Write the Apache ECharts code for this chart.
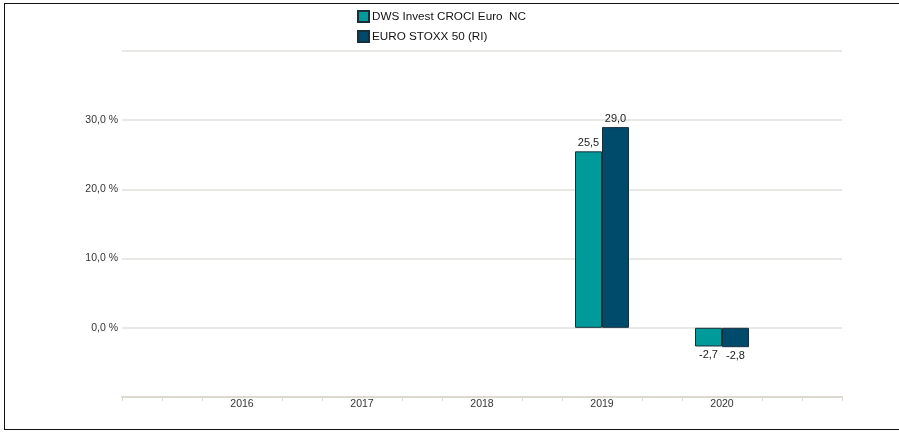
<!DOCTYPE html>
<html>
<head>
<meta charset="utf-8">
<script src="https://cdn.jsdelivr.net/npm/echarts@6/dist/echarts.min.js"></script>
<style>
html,body{margin:0;padding:0;background:#fff;}
#frame{position:absolute;left:4px;top:3px;width:900px;height:427px;border:1.5px solid #111;border-right:none;box-sizing:border-box;}
#chart{position:absolute;left:0;top:0;width:899px;height:433px;}
</style>
</head>
<body>
<div id="frame"></div>
<div id="chart"></div>
<script>
const years = ['2016', '2017', '2018', '2019', '2020'];
const fundName = 'DWS Invest CROCI Euro  NC';
const indexName = 'EURO STOXX 50 (RI)';
const fundValues = [null, null, null, 25.5, -2.7];
const indexValues = [null, null, null, 29.0, -2.8];
const yTicks = [-10, 0, 10, 20, 30, 40];

// axis slots: one empty slot before and after the years, 3 tick steps per slot
const STEP = 3;
const slots = ['', ...years, ''];
const axisCats = [];
for (let i = 0; i < (slots.length - 1) * STEP + 1; i++) {
  axisCats.push(i % STEP === 0 ? slots[i / STEP] : '');
}
function spread(vals) {
  const arr = axisCats.map(() => null);
  vals.forEach((v, k) => {
    if (v === null) return;
    arr[(k + 1) * STEP] = v < 0 ? { value: v, label: { position: 'bottom' } } : v;
  });
  return arr;
}
const fmt = v => v.toFixed(1).replace('.', ',');
const lbl = {
  show: true, formatter: p => fmt(p.value), color: '#1a1a1a',
  fontFamily: 'Liberation Sans, Arial', fontSize: 11,
  position: 'top', distance: 3
};

const chart = echarts.init(document.getElementById('chart'));
chart.setOption({
  animation: false,
  legend: {
    left: 352, top: 5, orient: 'vertical', itemGap: 7,
    itemWidth: 11, itemHeight: 11, icon: 'rect',
    textStyle: { fontFamily: 'Liberation Sans, Arial', fontSize: 11.7, color: '#111', padding: [0, 0, 0, -2] },
    data: [fundName, indexName]
  },
  grid: { left: 122, right: 57, top: 51, bottom: 36 },
  xAxis: {
    type: 'category', data: axisCats, boundaryGap: false,
    axisLine: { show: true, onZero: false, lineStyle: { color: '#ddd9d0', width: 2 } },
    axisTick: {
      show: true, length: 4, lineStyle: { color: '#ddd9d0', width: 1 },
      interval: (i) => i === 0 || i === axisCats.length - 1 || i % STEP !== 0
    },
    axisLabel: {
      interval: (i, v) => v !== '', margin: 2,
      fontFamily: 'Liberation Sans, Arial', fontSize: 10.5, color: '#333'
    },
    splitLine: { show: false }
  },
  yAxis: {
    type: 'value', min: yTicks[0], max: yTicks[yTicks.length - 1], interval: 10,
    axisLine: { show: false }, axisTick: { show: false },
    axisLabel: {
      margin: 4, fontFamily: 'Liberation Sans, Arial', fontSize: 10.5, color: '#333',
      formatter: v => (v === yTicks[0] || v === yTicks[yTicks.length - 1]) ? '' : fmt(v) + ' %'
    },
    splitLine: { lineStyle: { color: '#e3e1dc', width: 1.5 } }
  },
  series: [
    {
      name: fundName, type: 'bar', data: spread(fundValues), barWidth: 27, barGap: '0%',
      itemStyle: { color: '#009a9a', borderColor: '#15303d', borderWidth: 1 },
      label: lbl
    },
    {
      name: indexName, type: 'bar', data: spread(indexValues), barWidth: 27,
      itemStyle: { color: '#004a6b', borderColor: '#15303d', borderWidth: 1 },
      label: lbl
    }
  ]
});
</script>
</body>
</html>
